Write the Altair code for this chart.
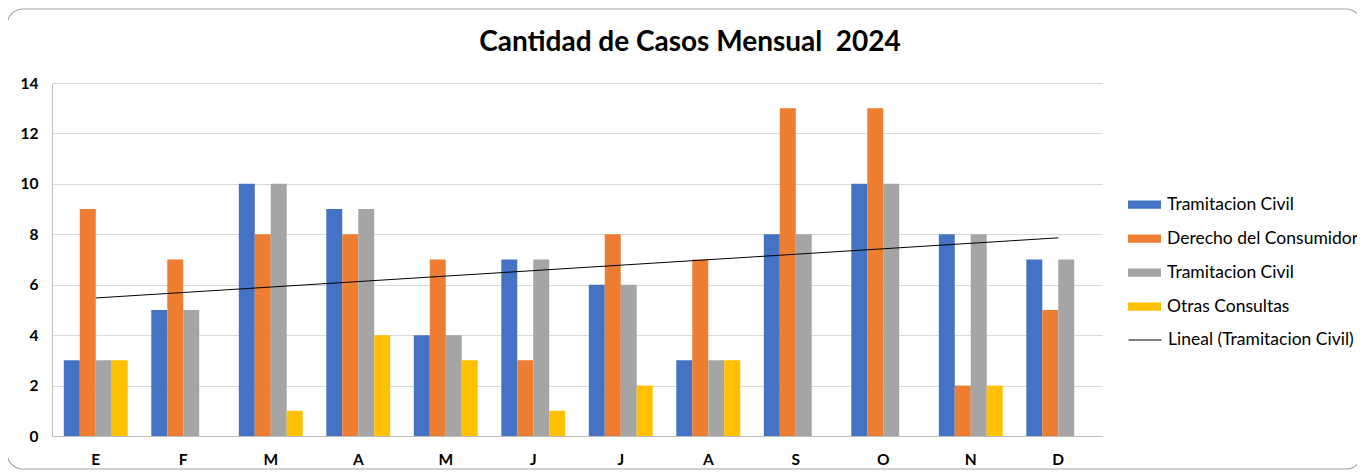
import altair as alt
import pandas as pd

months = ["E", "F", "M", "A", "M", "J", "J", "A", "S", "O", "N", "D"]
series_keys = ["s1", "s2", "s3", "s4"]
series_names = ["Tramitacion Civil", "Derecho del Consumidor", "Tramitacion Civil", "Otras Consultas"]
colors = ["#4472C4", "#ED7D31", "#A5A5A5", "#FFC000"]

tramitacion_civil = [3, 5, 10, 9, 4, 7, 6, 3, 8, 10, 8, 7]
derecho_consumidor = [9, 7, 8, 8, 7, 3, 8, 7, 13, 13, 2, 5]
tramitacion_civil_2 = [3, 5, 10, 9, 4, 7, 6, 3, 8, 10, 8, 7]
otras_consultas = [3, 0, 1, 4, 3, 1, 2, 3, 0, 0, 2, 0]

values = [tramitacion_civil, derecho_consumidor, tramitacion_civil_2, otras_consultas]
rows = []
for k, vals in zip(series_keys, values):
    for i, v in enumerate(vals):
        rows.append({"idx": i + 1, "serie": k, "v": v})
df = pd.DataFrame(rows)

idx_domain = list(range(1, 13))
label_expr = "[" + ",".join(f"'{m}'" for m in months) + "][datum.value - 1]"
name_expr = "{" + ",".join(f"'{k}':'{n}'" for k, n in zip(series_keys, series_names)) + "}[datum.value]"

FONT = "Lato"
W, H = 1050, 353

x_enc = alt.X("idx:O", scale=alt.Scale(domain=idx_domain, paddingInner=0.27, paddingOuter=0.135),
              axis=alt.Axis(title=None, labelExpr=label_expr, labelAngle=0, ticks=False,
                            labelFontWeight="bold", labelFontSize=15.5, labelColor="#000",
                            labelPadding=16, domainColor="#BFBFBF", labelFont=FONT))

base = alt.Chart(df)

frame = alt.Chart(pd.DataFrame({"a": [0]})).mark_rect(
    fill=None, stroke="#A6A6A6", strokeWidth=1.2, cornerRadius=16
).encode(x=alt.value(-45), x2=alt.value(1310), y=alt.value(-74), y2=alt.value(386))

bars = base.mark_bar().encode(
    x=x_enc,
    xOffset=alt.XOffset("serie:N", scale=alt.Scale(domain=series_keys, paddingInner=0, paddingOuter=0)),
    y=alt.Y("v:Q", scale=alt.Scale(domain=[0, 14], nice=False),
            axis=alt.Axis(title=None, values=list(range(0, 15, 2)), ticks=False, labelFontWeight="bold",
                          labelFontSize=15.5, labelColor="#000", labelPadding=14, gridColor="#D9D9D9",
                          domainColor="#BFBFBF", labelFont=FONT)),
    color=alt.Color("serie:N", scale=alt.Scale(domain=series_keys, range=colors),
                    legend=alt.Legend(title=None, orient="none", legendX=1076, legendY=105,
                                      labelExpr=name_expr, symbolType="M-1,-0.25H1V0.25H-1Z",
                                      symbolSize=1089, symbolStrokeWidth=0, labelFont=FONT,
                                      labelFontSize=17.5, labelColor="#000", rowPadding=9,
                                      labelOffset=6, labelLimit=400)),
)

trend = base.transform_filter(alt.datum.serie == "s1").transform_regression(
    "idx", "v", method="linear"
).transform_calculate(t="'Lineal (Tramitacion Civil)'").mark_line(strokeWidth=1).encode(
    x=alt.X("idx:O", scale=alt.Scale(domain=idx_domain)),
    y="v:Q",
    stroke=alt.Stroke("t:N", scale=alt.Scale(range=["#000000"]),
                      legend=alt.Legend(title=None, orient="none", legendX=1076, legendY=240,
                                        symbolType="stroke", symbolSize=1089, symbolStrokeWidth=1,
                                        labelFont=FONT, labelFontSize=17.5, labelColor="#000",
                                        labelOffset=6, labelLimit=400)),
)

chart = alt.layer(frame, bars, trend).resolve_scale(color="independent").properties(
    width=W, height=H,
    title=alt.TitleParams("Cantidad de Casos Mensual\u00a0\u00a02024", font=FONT, fontSize=28,
                          fontWeight="bold", color="#000", anchor="middle", dx=113, offset=-49),
    autosize=alt.AutoSizeParams(type="none"),
    padding={"left": 44, "top": 75, "right": 255, "bottom": 40},
).configure_view(stroke=None).configure_axis(gridWidth=1)

chart.save("out.html", embed_options={"renderer": "svg", "actions": False})
